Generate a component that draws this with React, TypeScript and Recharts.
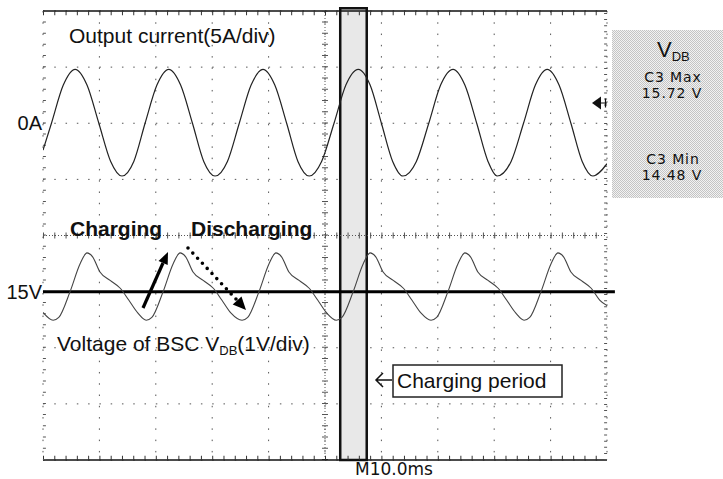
import React from 'react';
import {
  LineChart,
  Line,
  XAxis,
  YAxis,
  CartesianGrid,
  ReferenceLine,
  ReferenceArea,
} from 'recharts';

// Scope screen: 10 divisions of 10 ms across, 8 divisions of 1 V down (12 V .. 20 V)
const timeTicks = [0, 10, 20, 30, 40, 50, 60, 70, 80, 90, 100];
const voltTicks = [12, 13, 14, 15, 16, 17, 18, 19, 20];

// Output current (A), 5 A/div, 0 A two divisions above centre
const currentTime = [
  0, 1.5, 3.6, 5.7, 7.8, 9.9, 12.0, 14.0, 16.1, 18.1, 20.2, 22.3, 24.4, 26.5,
  28.5, 30.5, 32.7, 34.8, 36.9, 39.0, 41.1, 43.2, 45.2, 47.2, 49.4, 51.6, 53.7,
  55.9, 58.0, 60.0, 62.0, 63.8, 66.2, 68.4, 70.5, 72.7, 74.8, 76.9, 78.9, 80.5,
  83.0, 85.2, 87.3, 89.4, 91.5, 93.6, 95.6, 97.5, 100,
];
const currentAmps = [
  -2.4, 0, 3.4, 4.8, 3.4, 0, -3.4, -4.7, -3.4, 0, 3.4, 4.8, 3.4, 0,
  -3.4, -4.7, -3.4, 0, 3.4, 4.8, 3.4, 0, -3.4, -4.7, -3.4, 0, 3.4,
  4.8, 3.4, 0, -3.4, -4.7, -3.4, 0, 3.4, 4.8, 3.4, 0, -3.4, -4.7,
  -3.4, 0, 3.4, 4.8, 3.4, 0, -3.4, -4.7, -3.6,
];

// BSC voltage V_DB (V), 1 V/div, 15 V one division below centre
const voltageTime = [
  0, 1.8, 2.8, 4.8, 6.6, 7.8, 8.8, 10.1, 11.9, 13.7, 15.2, 16.8,
  18.3, 19.3, 21.3, 23.1, 24.3, 25.3, 26.6, 28.4, 30.2, 31.7, 33.3,
  35.3, 36.3, 38.3, 40.1, 41.3, 42.3, 43.6, 45.4, 47.2, 48.7, 50.3,
  52.0, 53.0, 55.0, 56.8, 58.0, 59.0, 60.3, 62.1, 63.9, 65.4, 67.0,
  68.8, 69.8, 71.8, 73.6, 74.8, 75.8, 77.1, 78.9, 80.7, 82.2, 83.8,
  85.3, 86.3, 88.3, 90.1, 91.3, 92.3, 93.6, 95.4, 97.2, 98.7, 100,
];
const voltageVolts = [
  14.63, 14.49, 14.54, 15.0, 15.5, 15.69, 15.62, 15.35, 15.2, 15.06, 14.85, 14.62,
  14.49, 14.54, 15.0, 15.5, 15.69, 15.62, 15.35, 15.2, 15.06, 14.85, 14.62,
  14.49, 14.54, 15.0, 15.5, 15.69, 15.62, 15.35, 15.2, 15.06, 14.85, 14.62,
  14.49, 14.54, 15.0, 15.5, 15.69, 15.62, 15.35, 15.2, 15.06, 14.85, 14.62,
  14.49, 14.54, 15.0, 15.5, 15.69, 15.62, 15.35, 15.2, 15.06, 14.85, 14.62,
  14.49, 14.54, 15.0, 15.5, 15.69, 15.62, 15.35, 15.2, 15.06, 14.85, 14.75,
];

const chargingStart = 52.7;
const chargingEnd = 57.4;
const voltageRef = 15;
const centreVolt = 16;

const currentData = currentTime.map((t, i) => ({ t, amps: currentAmps[i] }));
const voltageData = voltageTime.map((t, i) => ({ t, volts: voltageVolts[i] }));

const W = 723;
const H = 479;
const sans = '"Liberation Sans", Arial, sans-serif';
const scopeFont = '"DejaVu Sans", sans-serif';

const Overlay = () => (
  <svg
    width={W}
    height={H}
    style={{ position: 'absolute', left: 0, top: 0, pointerEvents: 'none' }}
  >
    <defs>
      <pattern id="stipple" width="2" height="2" patternUnits="userSpaceOnUse">
        <rect width="2" height="2" fill="#f2f2f2" />
        <rect width="1" height="1" fill="#c4c4c4" />
        <rect x="1" y="1" width="1" height="1" fill="#c4c4c4" />
      </pattern>
    </defs>

    {/* trace labels */}
    <text x={69} y={43} fontFamily={sans} fontSize={21} fill="#111">
      Output current(5A/div)
    </text>
    <text x={42} y={130} fontFamily={sans} fontSize={20} textAnchor="end" fill="#111">
      0A
    </text>
    <text x={42} y={299} fontFamily={sans} fontSize={20} textAnchor="end" fill="#111">
      15V
    </text>
    <text x={70} y={236} fontFamily={sans} fontSize={21} fontWeight="bold" fill="#111">
      Charging
    </text>
    <text x={191} y={236} fontFamily={sans} fontSize={21} fontWeight="bold" fill="#111">
      Discharging
    </text>
    <text x={57} y={351} fontFamily={sans} fontSize={21} fill="#111">
      Voltage of BSC V
      <tspan fontSize={13} dy={4}>DB</tspan>
      <tspan dy={-4}>(1V/div)</tspan>
    </text>

    {/* charging / discharging arrows */}
    <line x1={143} y1={308} x2={163} y2={263} stroke="#000" strokeWidth={3.2} />
    <polygon points="168,252 167.7,265 158.5,261" fill="#000" />
    <line
      x1={188}
      y1={248}
      x2={236}
      y2={299}
      stroke="#000"
      strokeWidth={3.6}
      strokeDasharray="0 7"
      strokeLinecap="round"
    />
    <polygon points="246,310 241.5,296.4 232.7,304.6" fill="#000" />

    {/* charging period callout */}
    <path d="M392 380 H376 M383 373 L376 380 L383 387" stroke="#111" strokeWidth={1.5} fill="none" />
    <rect x={393} y={365} width={169} height={32} fill="#fff" stroke="#222" strokeWidth={1.5} />
    <text x={397} y={388} fontFamily={sans} fontSize={21} fill="#111">
      Charging period
    </text>

    {/* time base */}
    <text x={355} y={475} fontFamily={scopeFont} fontSize={17} fill="#111">
      M10.0ms
    </text>

    {/* trigger level marker */}
    <polygon points="592,103 601,96.5 601,109.5" fill="#111" />
    <path d="M600 103 H607 M605.5 98.5 V107.5" stroke="#111" strokeWidth={1.2} />

    {/* measurement panel */}
    <rect x={612} y={30} width={111} height={168} fill="url(#stipple)" />
    <text x={657} y={57} fontFamily={sans} fontSize={22} fill="#111">
      V<tspan fontSize={13} dy={4}>DB</tspan>
    </text>
    <text x={673} y={82} fontFamily={scopeFont} fontSize={14} letterSpacing={0.9} textAnchor="middle" fill="#111">
      C3 Max
    </text>
    <text x={672} y={98} fontFamily={scopeFont} fontSize={14} letterSpacing={0.9} textAnchor="middle" fill="#111">
      15.72 V
    </text>
    <text x={673} y={164} fontFamily={scopeFont} fontSize={14} letterSpacing={0.9} textAnchor="middle" fill="#111">
      C3 Min
    </text>
    <text x={672} y={180} fontFamily={scopeFont} fontSize={14} letterSpacing={0.9} textAnchor="middle" fill="#111">
      14.48 V
    </text>
  </svg>
);

export default function App() {
  return (
    <div style={{ position: 'absolute', left: 0, top: 0, width: W, height: H, background: '#fff' }}>
      <LineChart width={W} height={H} margin={{ top: 11, right: 116, bottom: 19, left: 43 }}>
        <XAxis
          dataKey="t"
          type="number"
          domain={[0, 100]}
          ticks={timeTicks}
          allowDataOverflow
          hide
        />
        <YAxis yAxisId="volt" type="number" domain={[12, 20]} ticks={voltTicks} allowDataOverflow hide />
        <YAxis yAxisId="amp" type="number" domain={[-30, 10]} allowDataOverflow hide />

        <CartesianGrid yAxisId="volt" stroke="#555" strokeDasharray="1.5 9.78" />

        <ReferenceArea
          yAxisId="volt"
          x1={chargingStart}
          x2={chargingEnd}
          y1={12}
          y2={20.05}
          ifOverflow="visible"
          fill="#e8e8e8"
          fillOpacity={1}
          stroke="#111"
          strokeWidth={2.5}
        />

        {/* centre graticule with minor ticks */}
        <ReferenceLine yAxisId="volt" x={50} stroke="#555" strokeDasharray="1 2" />
        <ReferenceLine yAxisId="volt" x={50} stroke="#555" strokeWidth={6} strokeDasharray="1 10.22" />
        <ReferenceLine yAxisId="volt" y={centreVolt} stroke="#555" strokeDasharray="1 2" />
        <ReferenceLine yAxisId="volt" y={centreVolt} stroke="#555" strokeWidth={6} strokeDasharray="1 10.28" />

        {/* frame */}
        <ReferenceLine yAxisId="volt" y={20} stroke="#111" strokeWidth={1.5} />
        <ReferenceLine yAxisId="volt" y={19.96} stroke="#333" strokeWidth={4} strokeDasharray="1 10.28" />
        <ReferenceLine yAxisId="volt" y={12} stroke="#111" strokeWidth={1.5} />
        <ReferenceLine yAxisId="volt" y={12.04} stroke="#333" strokeWidth={4} strokeDasharray="1 10.28" />
        <ReferenceLine yAxisId="volt" x={0.25} stroke="#555" strokeWidth={3} strokeDasharray="1 10.22" />
        <ReferenceLine yAxisId="volt" x={99.75} stroke="#555" strokeWidth={3} strokeDasharray="1 5.11" />

        <ReferenceLine
          yAxisId="volt"
          segment={[
            { x: 0, y: voltageRef },
            { x: 101.4, y: voltageRef },
          ]}
          ifOverflow="visible"
          stroke="#000"
          strokeWidth={3}
        />

        <Line
          data={currentData}
          dataKey="amps"
          yAxisId="amp"
          type="monotone"
          stroke="#222"
          strokeWidth={1.2}
          dot={false}
          isAnimationActive={false}
        />
        <Line
          data={voltageData}
          dataKey="volts"
          yAxisId="volt"
          type="monotone"
          stroke="#444"
          strokeWidth={1.1}
          dot={false}
          isAnimationActive={false}
        />
      </LineChart>
      <Overlay />
    </div>
  );
}
